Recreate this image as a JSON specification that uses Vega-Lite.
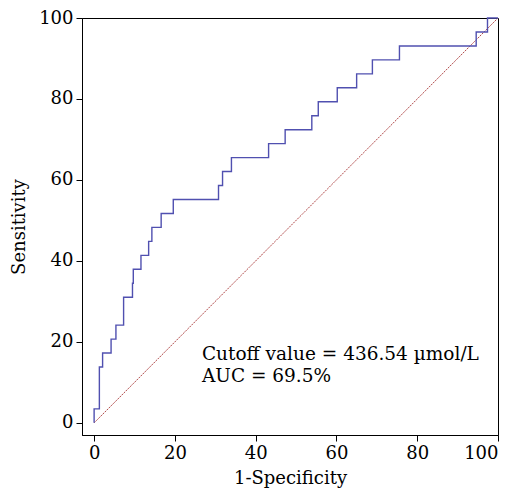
{
  "$schema": "https://vega.github.io/schema/vega-lite/v6.json",
  "width": 416,
  "height": 417,
  "autosize": "none",
  "padding": {"left": 82, "top": 18, "right": 18, "bottom": 57},
  "background": "white",
  "config": {
    "view": {"stroke": "black", "strokeWidth": 1},
    "axis": {
      "labelFont": "DejaVu Serif",
      "titleFont": "DejaVu Serif",
      "labelFontSize": 18,
      "titleFontSize": 18,
      "titleFontWeight": "normal",
      "labelColor": "black",
      "titleColor": "black",
      "domainColor": "black",
      "tickColor": "black",
      "tickSize": 6,
      "grid": false,
      "labelPadding": 3
    }
  },
  "datasets": {
    "roc": [
      {"fpr": 0, "tpr": 0},
      {"fpr": 1.3, "tpr": 3.45},
      {"fpr": 2.1, "tpr": 13.79},
      {"fpr": 4.2, "tpr": 17.24},
      {"fpr": 5.4, "tpr": 20.69},
      {"fpr": 7.3, "tpr": 24.14},
      {"fpr": 9.5, "tpr": 31.03},
      {"fpr": 9.7, "tpr": 34.48},
      {"fpr": 11.6, "tpr": 37.93},
      {"fpr": 13.5, "tpr": 41.38},
      {"fpr": 14.3, "tpr": 44.83},
      {"fpr": 16.6, "tpr": 48.28},
      {"fpr": 19.6, "tpr": 51.72},
      {"fpr": 30.8, "tpr": 55.17},
      {"fpr": 31.8, "tpr": 58.62},
      {"fpr": 34.0, "tpr": 62.07},
      {"fpr": 43.2, "tpr": 65.52},
      {"fpr": 47.3, "tpr": 68.97},
      {"fpr": 53.9, "tpr": 72.41},
      {"fpr": 55.5, "tpr": 75.86},
      {"fpr": 60.2, "tpr": 79.31},
      {"fpr": 65.0, "tpr": 82.76},
      {"fpr": 68.9, "tpr": 86.21},
      {"fpr": 75.6, "tpr": 89.66},
      {"fpr": 94.6, "tpr": 93.1},
      {"fpr": 97.4, "tpr": 96.55},
      {"fpr": 100, "tpr": 100}
    ],
    "diag": [
      {"fpr": 0, "tpr": 0},
      {"fpr": 100, "tpr": 100}
    ],
    "notes": [
      {"fpr": 26.7, "tpr": 15.5, "text": "Cutoff value = 436.54 µmol/L"},
      {"fpr": 26.7, "tpr": 10.1, "text": "AUC = 69.5%"}
    ]
  },
  "layer": [
    {
      "data": {"name": "diag"},
      "mark": {"type": "line", "color": "#b04848", "strokeWidth": 1, "strokeDash": [2, 1]},
      "encoding": {
        "x": {"field": "fpr", "type": "quantitative", "scale": {"domain": [-3, 100], "nice": false, "zero": false},
              "axis": {"values": [0, 20, 40, 60, 80, 100], "title": "1-Specificity", "titlePadding": 7}},
        "y": {"field": "tpr", "type": "quantitative", "scale": {"domain": [-3, 100], "nice": false, "zero": false},
              "axis": {"values": [0, 20, 40, 60, 80, 100], "title": "Sensitivity", "titlePadding": 10}}
      }
    },
    {
      "data": {"name": "roc"},
      "mark": {"type": "line", "color": "#5050b0", "strokeWidth": 1.4, "interpolate": "step-before"},
      "encoding": {
        "x": {"field": "fpr", "type": "quantitative"},
        "y": {"field": "tpr", "type": "quantitative"}
      }
    },
    {
      "data": {"name": "notes"},
      "mark": {"type": "text", "align": "left", "baseline": "alphabetic", "font": "DejaVu Serif", "fontSize": 18.5, "color": "black"},
      "encoding": {
        "x": {"field": "fpr", "type": "quantitative"},
        "y": {"field": "tpr", "type": "quantitative"},
        "text": {"field": "text"}
      }
    }
  ]
}
